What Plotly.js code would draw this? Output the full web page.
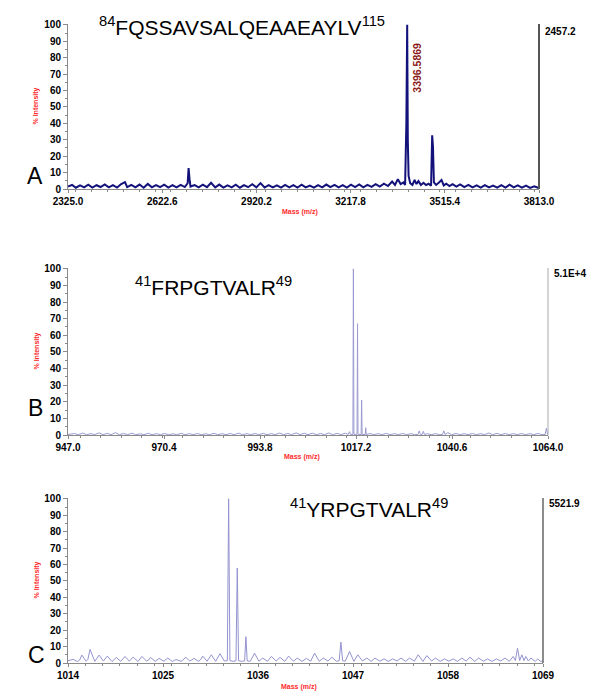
<!DOCTYPE html>
<html><head><meta charset="utf-8">
<script src="https://cdn.plot.ly/plotly-3.0.1.min.js"></script>
<style>html,body{margin:0;padding:0;background:#fff}#chart{width:600px;height:692px}</style>
</head><body><div id="chart"></div>
<script>
// ---------- Panel A data ----------
const massA = [2325,2338,2350,2363,2376,2389,2402,2415,2428,2441,2454,2467,2480,2493,2505,2512,2525,2538,2551,2564,2577,2590,2603,2616,2629,2642,2655,2668,2681,2694,2703,2706,2709,2712,2725,2738,2751,2764,2777,2790,2803,2816,2829,2842,2855,2868,2881,2894,2907,2920,2933,2946,2959,2972,2985,2998,3011,3024,3037,3050,3063,3076,3089,3102,3115,3128,3141,3154,3167,3180,3193,3206,3219,3232,3245,3258,3271,3284,3297,3310,3323,3336,3349,3358,3367,3376,3385,3390,3394,3396.5869,3398.5,3401,3406,3413,3420,3426,3432,3440,3448,3456,3464,3472,3475.5,3478,3481,3488,3497,3505,3512,3520,3530,3540,3552,3564,3577,3590,3603,3616,3629,3642,3655,3668,3681,3694,3707,3720,3733,3746,3759,3772,3785,3798,3813];
const intA = [1.5,2.5,0.8,2.2,1.0,2.6,0.9,2.3,1.2,2.8,1.0,2.4,0.9,3.0,4.2,1.1,2.5,1.0,2.7,0.8,3.1,1.0,2.4,1.1,2.6,0.9,2.3,1.0,2.5,1.2,3.5,12.7,6.0,1.5,2.4,1.0,2.6,1.1,3.8,1.0,2.7,0.9,2.2,1.0,2.6,0.8,2.4,1.1,2.9,1.0,3.6,0.9,2.4,1.0,2.2,0.8,2.5,1.0,2.3,0.9,2.6,1.0,2.1,0.8,2.4,1.0,2.7,1.1,2.5,1.0,2.3,0.9,2.6,1.2,2.8,1.0,2.5,1.3,3.0,1.5,3.2,1.8,4.5,2.5,6.0,3.0,4.0,2.5,40,100,30,8,3.5,2.5,5.5,3.0,4.8,2.5,3.8,2.4,3.2,2.0,32.7,26,4,2.5,4.0,5.5,2.2,3.2,1.8,3.0,1.5,2.8,1.2,2.5,1.0,2.2,0.9,2.4,1.0,2.1,0.8,2.3,0.9,2.6,1.0,2.2,0.8,2.1,0.7,1.6,0.5];
const ticksA = [2325.0,2622.6,2920.2,3217.8,3515.4,3813.0];
const tickTextA = ["2325.0","2622.6","2920.2","3217.8","3515.4","3813.0"];

// ---------- Panel B data ----------
const massB = [947.0,948.6,949.5,950.6,951.5,952.6,953.5,954.6,955.5,956.6,957.5,958.6,959.5,960.6,961.5,962.6,963.5,964.6,965.5,966.6,967.5,968.6,969.5,970.6,971.5,972.6,973.5,974.6,975.5,976.6,977.5,978.6,979.5,980.6,981.5,982.6,983.5,984.6,985.5,986.6,987.5,988.6,989.5,990.6,991.5,992.6,993.5,994.6,995.5,996.6,997.5,998.6,999.5,1000.6,1001.5,1002.6,1003.5,1004.6,1005.5,1006.6,1007.5,1008.6,1009.5,1010.6,1011.5,1012.6,1013.5,1014.6,1015.3,1015.6,1015.9,1016.45,1016.5667,1016.69,1017.45,1017.57,1017.69,1018.45,1018.57,1018.69,1019.45,1019.57,1019.7,1020.6,1021.5,1022.6,1023.5,1024.6,1025.5,1026.6,1027.5,1028.6,1029.5,1030.6,1031.5,1032.3,1032.6,1032.9,1033.3,1033.6,1033.9,1034.6,1035.5,1036.6,1037.5,1038.3,1038.6,1038.9,1039.6,1040.5,1041.6,1042.5,1043.6,1044.5,1045.6,1046.5,1047.6,1048.5,1049.6,1050.5,1051.6,1052.5,1053.6,1054.5,1055.6,1056.5,1057.6,1058.5,1059.6,1060.5,1061.6,1062.5,1063.3,1063.6,1063.9,1064.0];
const intB = [0.3,0.9,0.2,1.2,0.2,0.8,0.2,1.3,0.2,1.0,0.2,1.4,0.2,0.9,0.2,1.1,0.2,0.7,0.2,1.0,0.2,0.8,0.2,0.9,0.2,0.7,0.2,1.0,0.2,0.8,0.2,0.9,0.2,0.7,0.2,1.0,0.2,0.8,0.2,0.9,0.2,1.1,0.2,0.8,0.2,0.9,0.2,1.0,0.2,0.8,0.2,1.2,0.2,0.9,0.2,1.3,0.2,1.0,0.2,1.1,0.2,0.9,0.2,1.2,0.2,1.0,0.2,1.1,0.3,2.0,0.3,0.4,100,0.4,0.4,67,0.4,0.3,21,0.3,0.3,4.4,0.3,0.9,0.2,0.8,0.2,1.0,0.2,0.8,0.2,0.9,0.2,0.8,0.2,0.3,2.5,0.3,0.3,2.2,0.3,0.8,0.2,0.8,0.2,0.3,2.5,0.3,1.4,0.2,0.9,0.2,0.8,0.2,0.9,0.2,0.8,0.2,1.2,0.2,1.0,0.2,0.9,0.2,0.8,0.2,0.9,0.2,0.8,0.2,0.9,0.2,0.3,4.0,0.3,0.2];
const ticksB = [947.0,970.4,993.8,1017.2,1040.6,1064.0];
const tickTextB = ["947.0","970.4","993.8","1017.2","1040.6","1064.0"];

// ---------- Panel C data ----------
const massC = [1014.0,1014.3,1014.6,1015.1,1015.35,1015.6,1016.1,1016.3,1016.55,1017.1,1017.6,1018.1,1018.55,1019.1,1019.35,1019.6,1020.1,1020.6,1021.1,1021.3,1021.55,1022.1,1022.55,1023.1,1023.35,1023.55,1024.1,1024.55,1025.1,1025.55,1026.1,1026.35,1026.6,1027.1,1027.65,1028.1,1028.6,1029.1,1029.35,1029.6,1030.1,1030.6,1031.1,1031.6,1032.1,1032.45,1032.6,1032.75,1033.1,1033.45,1033.6,1033.75,1034.1,1034.45,1034.6,1034.75,1035.1,1035.6,1036.1,1036.55,1037.1,1037.55,1038.1,1038.55,1039.1,1039.55,1040.1,1040.55,1041.1,1041.6,1042.1,1042.55,1043.1,1043.55,1044.1,1044.55,1045.1,1045.4,1045.6,1045.8,1046.1,1046.6,1047.1,1047.55,1048.1,1048.6,1049.1,1049.55,1050.1,1050.6,1051.1,1051.6,1052.1,1052.55,1053.1,1053.55,1054.1,1054.55,1055.1,1055.55,1056.1,1056.55,1057.1,1057.6,1058.1,1058.6,1059.1,1059.6,1060.1,1060.55,1061.1,1061.55,1062.1,1062.55,1063.1,1063.6,1064.1,1064.6,1065.1,1065.55,1065.8,1066.05,1066.3,1066.55,1066.8,1067.0,1067.3,1067.6,1068.1,1068.4,1068.7,1069.0];
const intC = [1.4,2.0,2.2,0.9,1.8,4.8,1.1,2.2,8.3,1.0,4.8,1.2,4.2,0.9,1.9,3.4,1.0,4.0,1.1,2.0,3.6,0.9,4.0,1.2,2.0,3.4,1.0,2.8,1.1,3.0,0.9,1.8,2.0,1.0,3.4,1.2,2.8,1.0,2.0,4.2,1.1,5.0,1.0,5.7,1.2,1.5,100,1.5,1.0,1.4,57.8,1.4,1.0,1.3,16,1.3,1.0,6.0,1.1,3.0,1.0,4.0,1.2,3.4,1.0,4.2,1.1,3.0,1.0,2.8,1.1,6.0,1.0,3.0,1.2,3.5,1.0,1.5,12.7,1.4,1.1,7.0,1.0,5.0,1.2,3.0,1.0,3.0,1.1,2.5,1.0,2.5,1.2,3.0,1.0,3.0,1.1,5.0,1.0,4.5,1.2,3.0,1.0,2.5,1.1,2.5,1.0,3.0,1.2,3.5,1.0,3.0,1.1,2.5,1.0,2.5,1.2,3.0,1.0,4.0,1.5,9.0,1.5,5.0,1.4,4.0,1.2,3.0,1.0,2.5,1.0,1.2];
const ticksC = [1014,1025,1036,1047,1058,1069];
const tickTextC = ["1014","1025","1036","1047","1058","1069"];

const W = 600, H = 692;
const px = v => v / W;
const py = v => 1 - v / H;

const tickFont = {family: "Liberation Sans, Arial, sans-serif", size: 10, color: "#000", weight: "bold"};
function xax(dom, range, tv, tt, anchor) {
  return {domain: dom, range: range, tickvals: tv, ticktext: tt, anchor: anchor,
    showline: true, linecolor: "#8a8a8a", linewidth: 1, ticks: "outside", ticklen: 3,
    tickcolor: "#8a8a8a", tickfont: tickFont, showgrid: false, zeroline: false,
    minor: {ticks: "outside", ticklen: 2, nticks: 6, tickcolor: "#8a8a8a", showgrid: false}};
}
function yax(dom, anchor) {
  return {domain: dom, range: [0, 100.5], dtick: 10, anchor: anchor,
    showline: true, linecolor: "#8a8a8a", linewidth: 1, ticks: "outside", ticklen: 4,
    tickcolor: "#8a8a8a", tickfont: tickFont, showgrid: false, zeroline: false,
    minor: {ticks: "outside", ticklen: 2, dtick: 5, tickcolor: "#8a8a8a", showgrid: false}};
}

const traces = [
  {x: massA, y: intA, xaxis: "x", yaxis: "y", type: "scatter", mode: "lines",
   line: {color: "#12127a", width: 2}, hoverinfo: "skip"},
  {x: massB, y: intB, xaxis: "x2", yaxis: "y2", type: "scatter", mode: "lines",
   line: {color: "#9a9ad2", width: 1}, hoverinfo: "skip"},
  {x: massC, y: intC, xaxis: "x3", yaxis: "y3", type: "scatter", mode: "lines",
   line: {color: "#9393d0", width: 1}, hoverinfo: "skip"}
];

const titleFont = {family: "Liberation Sans, Arial, sans-serif", size: 21, color: "#000"};
const letterFont = {family: "Liberation Sans, Arial, sans-serif", size: 23, color: "#000"};
const redFont = {family: "Liberation Sans, Arial, sans-serif", size: 7, color: "#ff2a2a", weight: "bold"};
const peakFont = {family: "Liberation Sans, Arial, sans-serif", size: 10.5, color: "#8b1a1a", weight: "bold"};
const maxFont = {family: "Liberation Sans, Arial, sans-serif", size: 10, color: "#000", weight: "bold"};

const ann = [];
function paperText(text, x, y, font, xa, extra) {
  ann.push(Object.assign({text: text, xref: "paper", yref: "paper", x: px(x), y: py(y),
    xanchor: xa || "center", yanchor: "middle", showarrow: false, font: font}, extra || {}));
}
// titles
paperText("<sup>84</sup>FQSSAVSALQEAAEAYLV<sup>115</sup>", 97, 26, titleFont, "left");
paperText("<sup>41</sup>FRPGTVALR<sup>49</sup>", 133, 286, titleFont, "left");
paperText("<sup>41</sup>YRPGTVALR<sup>49</sup>", 288, 508, titleFont, "left");
// panel letters
paperText("A", 35, 176, letterFont);
paperText("B", 35, 408, letterFont);
paperText("C", 36, 655, letterFont);
// max intensity labels
paperText("2457.2", 543, 31, maxFont, "left");
paperText("5.1E+4", 552, 273, maxFont, "left");
paperText("5521.9", 547, 503, maxFont, "left");
// x axis titles
paperText("Mass (m/z)", 300, 212, redFont);
paperText("Mass (m/z)", 302, 457, redFont);
paperText("Mass (m/z)", 299, 687, redFont);
// y axis titles
[["y", 36], ["y2", 36], ["y3", 36]].forEach(function (p) {
  ann.push({text: "% Intensity", xref: "paper", yref: p[0] + " domain", x: px(p[1]), y: 0.5,
    textangle: -90, showarrow: false, font: redFont, xanchor: "center", yanchor: "middle"});
});
// peak labels
ann.push({text: "3396.5869", xref: "x", yref: "y", x: 3396.5869, y: 74, xshift: 9, textangle: -90,
  showarrow: false, font: peakFont});
ann.push({text: "1016.5667", xref: "x2", yref: "y2", x: 1016.5667, y: 116, xshift: 9, textangle: -90,
  showarrow: false, font: peakFont});
ann.push({text: "1032.60", xref: "x3", yref: "y3", x: 1032.60, y: 113, xshift: 9.5, textangle: -90,
  showarrow: false, font: peakFont});

const shapes = [
  {type: "line", xref: "x domain", yref: "y domain", x0: 1, x1: 1, y0: 0, y1: 1, line: {color: "#555", width: 2}},
  {type: "line", xref: "x2 domain", yref: "y2 domain", x0: 1, x1: 1, y0: 0, y1: 1, line: {color: "#aaa", width: 1}},
  {type: "line", xref: "x3 domain", yref: "y3 domain", x0: 1, x1: 1, y0: 0, y1: 1, line: {color: "#666", width: 1.5}}
];

const layout = {
  width: W, height: H, margin: {l: 0, r: 0, t: 0, b: 0},
  paper_bgcolor: "#fff", plot_bgcolor: "#fff", showlegend: false,
  xaxis: xax([px(68), px(539)], [2325, 3813], ticksA, tickTextA, "y"),
  yaxis: yax([py(189), py(24)], "x"),
  xaxis2: xax([px(68), px(548)], [947, 1064], ticksB, tickTextB, "y2"),
  yaxis2: yax([py(435), py(268)], "x2"),
  xaxis3: xax([px(68), px(543)], [1014, 1069], ticksC, tickTextC, "y3"),
  yaxis3: yax([py(663), py(498)], "x3"),
  annotations: ann, shapes: shapes
};

Plotly.newPlot("chart", traces, layout, {staticPlot: true, displayModeBar: false});
</script>
</body></html>
